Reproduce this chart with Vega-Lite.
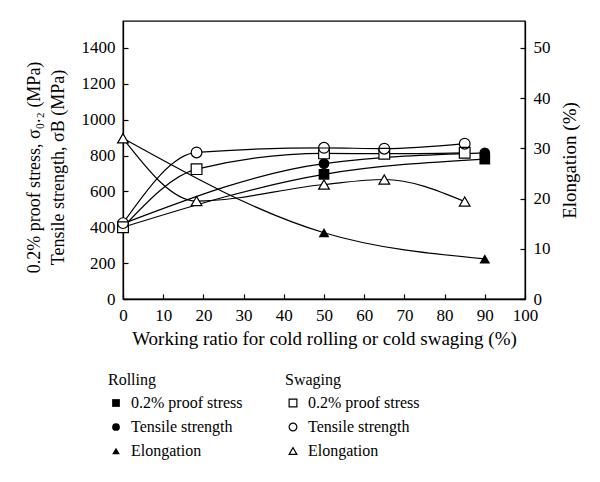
{
  "$schema": "https://vega.github.io/schema/vega-lite/v6.json",
  "width": 402,
  "height": 278,
  "autosize": {"type": "none"},
  "padding": {"left": 123, "top": 21, "right": 75, "bottom": 183},
  "background": "white",
  "config": {
    "font": "Liberation Serif",
    "view": {"stroke": "black", "strokeWidth": 1.3},
    "axis": {
      "labelFont": "Liberation Serif",
      "titleFont": "Liberation Serif",
      "labelFontSize": 17,
      "titleFontSize": 19,
      "titleFontWeight": "normal",
      "labelColor": "black",
      "titleColor": "black",
      "domainColor": "black",
      "domainWidth": 1.3,
      "tickColor": "black",
      "tickWidth": 1.2,
      "tickSize": -5,
      "grid": false,
      "labelPadding": 13,
      "labelFlush": false
    },
    "legend": {
      "labelFont": "Liberation Serif",
      "titleFont": "Liberation Serif",
      "labelFontSize": 16,
      "titleFontSize": 16,
      "titleFontWeight": "normal",
      "labelColor": "black",
      "titleColor": "black",
      "padding": 0,
      "rowPadding": 8,
      "titlePadding": 7,
      "labelOffset": 7,
      "symbolSize": 60
    }
  },
  "data": {
    "values": [
      {"process": "Rolling", "measure": "0.2% proof stress", "ratio": 0, "value": 400},
      {"process": "Rolling", "measure": "0.2% proof stress", "ratio": 50, "value": 695},
      {"process": "Rolling", "measure": "0.2% proof stress", "ratio": 90, "value": 780},
      {"process": "Rolling", "measure": "Tensile strength", "ratio": 0, "value": 420},
      {"process": "Rolling", "measure": "Tensile strength", "ratio": 50, "value": 755},
      {"process": "Rolling", "measure": "Tensile strength", "ratio": 90, "value": 815},
      {"process": "Rolling", "measure": "Elongation", "ratio": 0, "value": 32},
      {"process": "Rolling", "measure": "Elongation", "ratio": 50, "value": 13.2},
      {"process": "Rolling", "measure": "Elongation", "ratio": 90, "value": 8},
      {"process": "Swaging", "measure": "0.2% proof stress", "ratio": 0, "value": 400},
      {"process": "Swaging", "measure": "0.2% proof stress", "ratio": 18.3, "value": 724},
      {"process": "Swaging", "measure": "0.2% proof stress", "ratio": 50, "value": 812},
      {"process": "Swaging", "measure": "0.2% proof stress", "ratio": 65, "value": 810},
      {"process": "Swaging", "measure": "0.2% proof stress", "ratio": 85, "value": 815},
      {"process": "Swaging", "measure": "Tensile strength", "ratio": 0, "value": 423},
      {"process": "Swaging", "measure": "Tensile strength", "ratio": 18.3, "value": 817},
      {"process": "Swaging", "measure": "Tensile strength", "ratio": 50, "value": 843},
      {"process": "Swaging", "measure": "Tensile strength", "ratio": 65, "value": 838},
      {"process": "Swaging", "measure": "Tensile strength", "ratio": 85, "value": 866},
      {"process": "Swaging", "measure": "Elongation", "ratio": 0, "value": 32},
      {"process": "Swaging", "measure": "Elongation", "ratio": 18.3, "value": 19.5},
      {"process": "Swaging", "measure": "Elongation", "ratio": 50, "value": 22.8},
      {"process": "Swaging", "measure": "Elongation", "ratio": 65, "value": 23.8},
      {"process": "Swaging", "measure": "Elongation", "ratio": 85, "value": 19.4}
    ]
  },
  "encoding": {
    "x": {
      "field": "ratio",
      "type": "quantitative",
      "scale": {"domain": [0, 100], "nice": false},
      "axis": {
        "values": [0, 10, 20, 30, 40, 50, 60, 70, 80, 90, 100],
        "format": "d",
        "labelFlush": false,
        "title": "Working ratio for cold rolling or cold swaging (%)",
        "titlePadding": 6
      }
    }
  },
  "layer": [
    {
      "transform": [{"filter": "datum.measure !== 'Elongation'"}],
      "encoding": {
        "y": {
          "field": "value",
          "type": "quantitative",
          "scale": {"domain": [0, 1550], "nice": false},
          "axis": {
            "orient": "left",
            "values": [0, 200, 400, 600, 800, 1000, 1200, 1400],
            "format": "d",
            "title": ["0.2% proof stress, σ₀.₂ (MPa)", "Tensile strength, σB (MPa)"],
            "titleFontSize": 18,
            "titleLineHeight": 24,
            "titlePadding": 14,
            "titleY": 146
          }
        }
      },
      "layer": [
        {
          "mark": {"type": "line", "interpolate": "monotone", "color": "black", "strokeWidth": 1.2},
          "encoding": {"detail": [{"field": "process"}, {"field": "measure"}]}
        },
        {
          "transform": [{"filter": "datum.process === 'Rolling'"}],
          "mark": {"type": "point", "filled": true, "color": "black", "size": 115, "opacity": 1},
          "encoding": {
            "shape": {
              "field": "measure",
              "type": "nominal",
              "scale": {"domain": ["0.2% proof stress", "Tensile strength", "Elongation"], "range": ["square", "circle", "triangle-up"]},
              "legend": {"title": "Rolling", "orient": "none", "legendX": -15, "legendY": 351}
            }
          }
        },
        {
          "transform": [{"filter": "datum.process === 'Swaging'"}],
          "mark": {"type": "point", "filled": true, "color": "white", "size": 115, "opacity": 1},
          "encoding": {
            "shape": {
              "field": "measure",
              "type": "nominal",
              "scale": {"domain": ["0.2% proof stress", "Tensile strength", "Elongation"], "range": ["square", "circle", "triangle-up"]},
              "legend": null
            }
          }
        },
        {
          "transform": [{"filter": "datum.process === 'Swaging'"}],
          "mark": {"type": "point", "filled": false, "color": "black", "strokeWidth": 1.2, "size": 115, "opacity": 1},
          "encoding": {
            "shape": {
              "field": "measure",
              "type": "nominal",
              "scale": {"domain": ["0.2% proof stress", "Tensile strength", "Elongation"], "range": ["square", "circle", "triangle-up"]},
              "legend": {"title": "Swaging", "orient": "none", "legendX": 162, "legendY": 351, "symbolStrokeWidth": 1.2}
            }
          }
        }
      ],
      "resolve": {"scale": {"shape": "independent"}}
    },
    {
      "transform": [{"filter": "datum.measure === 'Elongation'"}],
      "encoding": {
        "y": {
          "field": "value",
          "type": "quantitative",
          "scale": {"domain": [0, 55.36], "nice": false},
          "axis": {
            "orient": "right",
            "values": [0, 10, 20, 30, 40, 50],
            "format": "d",
            "title": "Elongation (%)",
            "titleAngle": -90,
            "titlePadding": 29
          }
        }
      },
      "layer": [
        {
          "mark": {"type": "line", "interpolate": "monotone", "color": "black", "strokeWidth": 1.2},
          "encoding": {"detail": {"field": "process"}}
        },
        {
          "transform": [{"filter": "datum.process === 'Rolling'"}],
          "mark": {"type": "point", "shape": "triangle-up", "filled": true, "color": "black", "size": 115, "opacity": 1},
          "encoding": {}
        },
        {
          "transform": [{"filter": "datum.process === 'Swaging'"}],
          "mark": {"type": "point", "shape": "triangle-up", "filled": true, "fill": "white", "stroke": "black", "strokeWidth": 1.2, "size": 115, "opacity": 1},
          "encoding": {}
        }
      ]
    }
  ],
  "resolve": {"scale": {"y": "independent"}}
}
